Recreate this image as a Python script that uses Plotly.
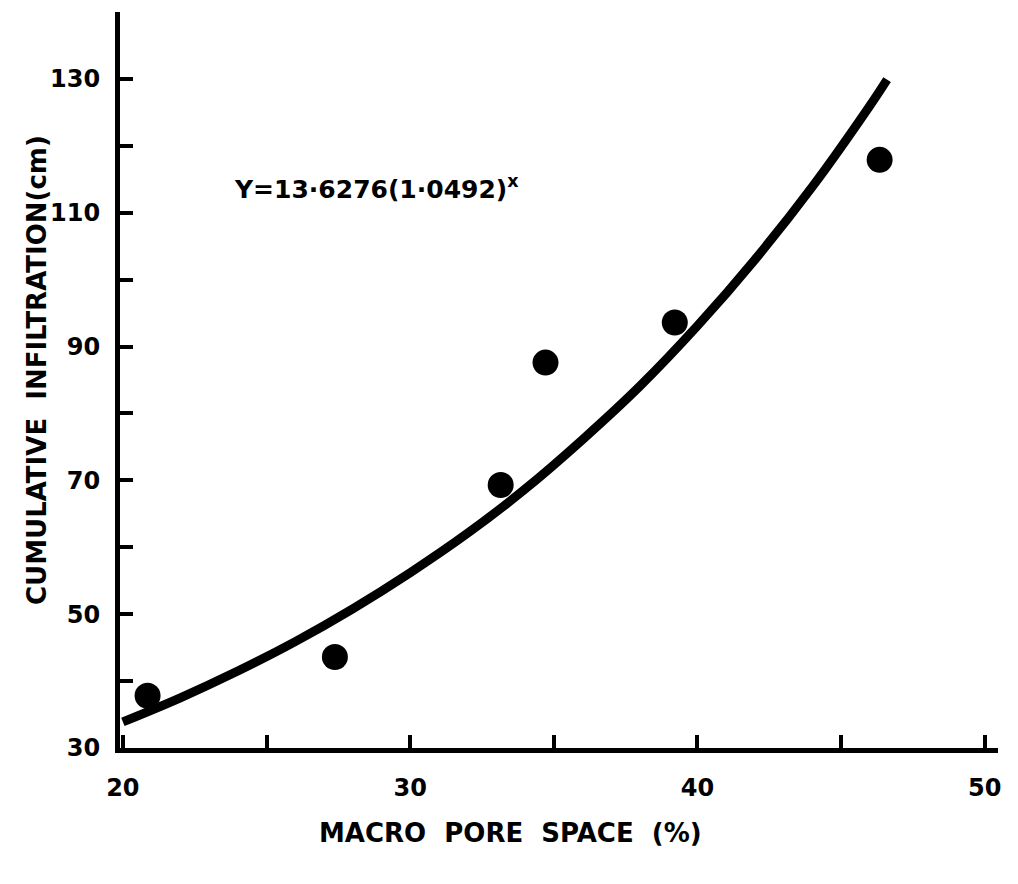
import plotly.graph_objects as go

# Observed data points (macro pore space %, cumulative infiltration cm)
macro_pore = [20.86, 27.38, 33.15, 34.71, 39.21, 46.34]
infiltration = [37.8, 43.6, 69.3, 87.6, 93.6, 117.9]

# Fitted curve
curve_x = [20, 22, 24, 26, 28, 30, 32, 34, 36, 38, 40, 42, 44, 46, 46.6]
curve_y = [33.9, 37.5, 41.5, 45.9, 50.8, 56.2, 62.1, 68.7, 76.1, 84.1, 93.1, 103.0, 113.9, 126.0, 129.9]

x_tickvals = [20, 30, 40, 50]
x_ticktext = ["20", "30", "40", "50"]
y_tickvals = [30, 50, 70, 90, 110, 130]
y_ticktext = ["30", "50", "70", "90", "110", "130"]

equation = "Y=13·6276(1·0492)<sup>x</sup>"
x_title = "MACRO  PORE  SPACE  (%)"
y_title = "CUMULATIVE  INFILTRATION(cm)"

FONT = "DejaVu Sans"

W, H = 1018, 884
pl, pr, pt, pb = 120, 20, 12, 136
pw, ph = W - pl - pr, H - pt - pb

def px_to_paper(px, py):
    return (px - pl) / pw, (H - pb - py) / ph

fig = go.Figure()
fig.add_trace(go.Scatter(
    x=curve_x, y=curve_y, mode="lines",
    line=dict(color="black", width=9, shape="spline"),
    hoverinfo="skip", showlegend=False,
))
fig.add_trace(go.Scatter(
    x=macro_pore, y=infiltration, mode="markers",
    marker=dict(color="black", size=26),
    showlegend=False,
))

ex, ey = px_to_paper(232, 188)
tx, ty = px_to_paper(510, 833)
yx, yy = px_to_paper(37, 370)

fig.update_layout(
    width=W, height=H,
    margin=dict(l=pl, r=pr, t=pt, b=pb),
    paper_bgcolor="white", plot_bgcolor="white",
    xaxis=dict(
        range=[19.9, 50.46], showgrid=False, zeroline=False,
        showline=True, linecolor="black", linewidth=5,
        tickmode="array", tickvals=x_tickvals, ticktext=x_ticktext,
        ticks="inside", ticklen=13, tickwidth=4, tickcolor="black",
        minor=dict(ticks="inside", ticklen=13, tickwidth=4, tickcolor="black",
                   tick0=20, dtick=5, showgrid=False),
        tickfont=dict(family=FONT, size=24, color="black", weight="bold"),
        ticklabelstandoff=14,
    ),
    yaxis=dict(
        range=[30, 140.0], showgrid=False, zeroline=False,
        showline=True, linecolor="black", linewidth=5,
        tickmode="array", tickvals=y_tickvals, ticktext=y_ticktext,
        ticks="inside", ticklen=13, tickwidth=4, tickcolor="black",
        minor=dict(ticks="inside", ticklen=13, tickwidth=4, tickcolor="black",
                   tick0=30, dtick=10, showgrid=False),
        tickfont=dict(family=FONT, size=24, color="black", weight="bold"),
        ticklabelstandoff=10,
    ),
    annotations=[
        dict(text=equation, x=ex, y=ey, xref="paper", yref="paper",
             showarrow=False, xanchor="left", yanchor="middle",
             font=dict(family=FONT, size=25, color="black", weight="bold")),
        dict(text=x_title, x=tx, y=ty, xref="paper", yref="paper",
             showarrow=False, xanchor="center", yanchor="middle",
             font=dict(family=FONT, size=26, color="black", weight="bold")),
        dict(text=y_title, x=yx, y=yy, xref="paper", yref="paper",
             showarrow=False, xanchor="center", yanchor="middle", textangle=-90,
             font=dict(family=FONT, size=26, color="black", weight="bold")),
    ],
)

fig.write_html("out.html")
